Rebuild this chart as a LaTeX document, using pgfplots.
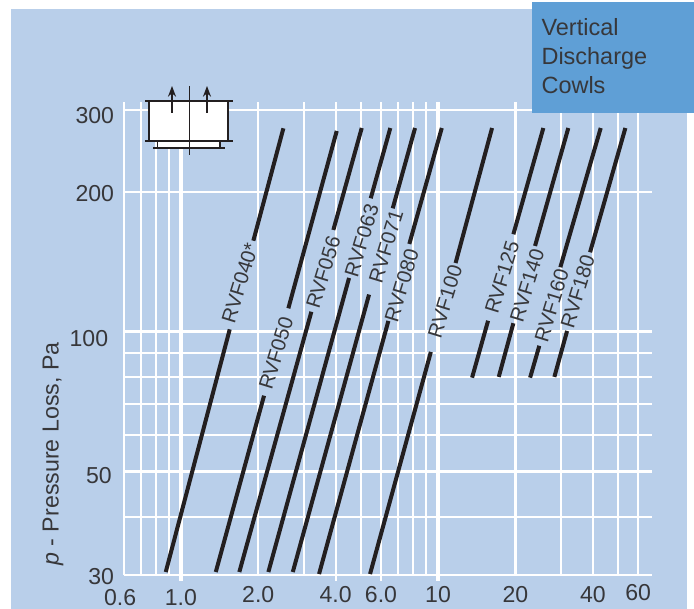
\documentclass[border=0pt]{standalone}
\usepackage{fontspec}
\setmainfont{Liberation Sans}
\usepackage{pgfplots}
\pgfplotsset{compat=1.18}
\usetikzlibrary{arrows.meta}
\definecolor{panel}{RGB}{185,207,234}
\definecolor{tabblue}{RGB}{95,159,214}
\definecolor{ink}{RGB}{35,31,32}
\definecolor{txt}{RGB}{55,55,58}
\pgfplotsset{
    gridthin/.style={white,line width=1.6pt,forget plot},
    gridthick/.style={white,line width=2.6pt,forget plot},
    curve/.style={ink,line width=3pt,forget plot},
}
\begin{document}
\begin{tikzpicture}
\begin{scope}[x=0.75pt,y=-0.75pt]
    \path (0,0) rectangle (694,609);
    \fill[panel] (11,9) rectangle (687,609);
\end{scope}
\begin{axis}[
    at={(92.85pt,-431.025pt)},
    anchor=south west,
    scale only axis,
    width=396.15pt,
    height=354.15pt,
    xmode=log,
    ymode=log,
    xmin=0.6,xmax=67.9,
    ymin=30,ymax=310.9,
    clip=false,
    axis line style={draw=none},
    major tick length=0pt,
    minor tick num=0,
    xtick={0.6,1,2,4,6,10,20,40,60},
    xticklabels={\raisebox{-2.4pt}{\hspace*{-5.5pt}0.6},\raisebox{-2.4pt}{1.0},2.0,4.0,6.0,10,20,40,\raisebox{1pt}{60}},
    ytick={30,50,100,200,300},
    yticklabels={\raisebox{1.3pt}{30},\raisebox{0pt}{50\hspace*{1.7pt}},\raisebox{-2pt}{100\hspace*{4.4pt}},\raisebox{1.7pt}{200},\raisebox{-1pt}{300}},
    xticklabel style={anchor=base,yshift=-20.5pt,inner sep=0pt,outer sep=0pt,font=\fontsize{17.3}{19}\selectfont,text=txt},
    yticklabel style={anchor=base east,xshift=-7.35pt,yshift=-9pt,inner sep=0pt,outer sep=0pt,font=\fontsize{17.3}{19}\selectfont,text=txt},
    ylabel={\textit{p} - Pressure Loss, Pa},
    every axis y label/.style={at={(axis description cs:-0.134,0.2556)},rotate=90,anchor=center,font=\fontsize{17.4}{19}\selectfont,text=txt},
]
% vertical grid lines, short ones stop at 30
\pgfplotsinvokeforeach{0.6,0.7,0.8,0.9,2,3,5,7,8,9,20,30,40,50,60}{
    \addplot[gridthin] coordinates {(#1,30)(#1,310.9)};
}
\addplot[gridthin] coordinates {(4,29.07)(4,310.9)};
\addplot[gridthin] coordinates {(6,29.07)(6,310.9)};
\addplot[gridthick] coordinates {(1,29.07)(1,310.9)};
\addplot[gridthick] coordinates {(10,29.07)(10,310.9)};
% horizontal grid lines
\pgfplotsinvokeforeach{30,40,60,70,80,90,200,300}{
    \addplot[gridthin] coordinates {(0.6,#1)(67.9,#1)};
}
\addplot[gridthick] coordinates {(0.6,50)(67.9,50)};
\addplot[gridthick] coordinates {(0.6,100)(67.9,100)};
% RVF040*
\addplot[curve] coordinates {(2.504,273.6)(1.914,156.8)};
\addplot[curve] coordinates {(1.549,101.1)(0.8735,30.4)};
% RVF050
\addplot[curve] coordinates {(4.037,270)(2.618,112.2)};
\addplot[curve] coordinates {(2.106,72.8)(1.367,30.4)};
% RVF056
\addplot[curve] coordinates {(5.05,274)(3.917,165.4)};
\addplot[curve] coordinates {(3.217,110.3)(1.688,30.4)};
% RVF063
\addplot[curve] coordinates {(6.523,274)(5.474,193.5)};
\addplot[curve] coordinates {(4.508,130.4)(2.189,30.4)};
% RVF071
\addplot[curve] coordinates {(8.14,274)(6.666,184.1)};
\addplot[curve] coordinates {(5.392,120.1)(2.724,30.4)};
% RVF080
\addplot[curve] coordinates {(10.34,274)(7.733,154.3)};
\addplot[curve] coordinates {(6.41,105.4)(3.446,30.1)};
% RVF100
\addplot[curve] coordinates {(16.22,274)(11.7,140.4)};
\addplot[curve] coordinates {(9.376,90.4)(5.44,30.1)};
% RVF125
\addplot[curve] coordinates {(25.67,274)(19.63,161.9)};
\addplot[curve] coordinates {(15.65,105.5)(13.56,79.6)};
% RVF140
\addplot[curve] coordinates {(32.1,274)(23.83,152.8)};
\addplot[curve] coordinates {(19.63,104.2)(17.22,79.9)};
% RVF160
\addplot[curve] coordinates {(42.9,274)(29.89,137.5)};
\addplot[curve] coordinates {(24.76,93.2)(22.8,79.6)};
% RVF180
\addplot[curve] coordinates {(53.5,274)(39.0,148.1)};
\addplot[curve] coordinates {(31.75,100.3)(28.33,79.9)};
\end{axis}
\begin{scope}[x=0.75pt,y=-0.75pt]
    % curve names
    \foreach \px/\py/\name in {240/283/RVF040*,276/353.3/RVF050,323.3/272.3/RVF056,361.7/240.7/RVF063,386/246.7/RVF071,401.7/285.7/RVF080,445/301.7/RVF100,502/277.3/RVF125,527/285.7/RVF140,551.7/305.7/RVF160,577.7/291.7/RVF180}{
        \node[rotate=73,inner sep=0pt,text=txt,font=\fontsize{15.3}{17}\selectfont] at (\px,\py) {\name};
    }
    % cowl icon
    \fill[white] (149.3,101) rectangle (228.3,141);
    \fill[white] (157.3,141) rectangle (220,148);
    \draw[ink,line width=1.5pt] (149.3,101) -- (149.3,141) (228.3,101) -- (228.3,141);
    \draw[ink,line width=1.5pt] (145,101) -- (232.7,101) (145,141) -- (232.7,141);
    \draw[ink,line width=1.2pt] (157.3,141) -- (157.3,148) (220,141) -- (220,148);
    \draw[ink,line width=1.5pt] (153,148) -- (225,148);
    \draw[ink,line width=0.4pt] (189.3,86) -- (189.3,155);
    \draw[ink,line width=1.3pt,-{Stealth[length=8pt,width=6pt]}] (172,112.7) -- (172,86);
    \draw[ink,line width=1.3pt,-{Stealth[length=8pt,width=6pt]}] (207,112.7) -- (207,86);
    % title tab
    \fill[tabblue] (532,2) rectangle (694,113);
    \node[anchor=base west,inner sep=0pt,text=txt,font=\fontsize{17.6}{20}\selectfont] at (541.3,36) {Vertical};
    \node[anchor=base west,inner sep=0pt,text=txt,font=\fontsize{17.6}{20}\selectfont] at (541.3,64.3) {Discharge};
    \node[anchor=base west,inner sep=0pt,text=txt,font=\fontsize{17.6}{20}\selectfont] at (541.3,93.3) {Cowls};
\end{scope}
\end{tikzpicture}
\end{document}
